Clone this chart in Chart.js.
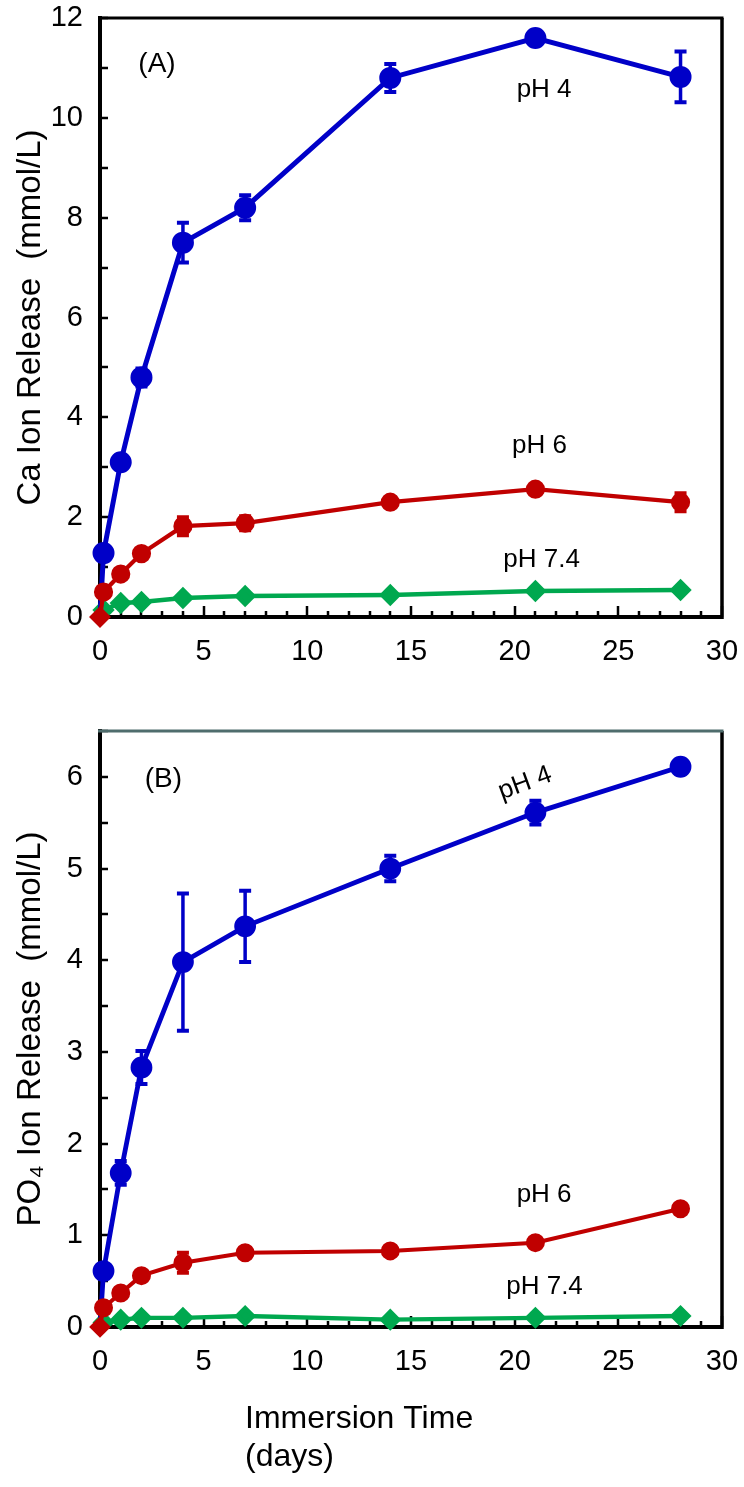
<!DOCTYPE html>
<html><head><meta charset="utf-8">
<script src="https://cdn.jsdelivr.net/npm/chart.js@4.4.1/dist/chart.umd.min.js"></script>
<style>
html,body{margin:0;padding:0;background:#fff;width:744px;height:1487px;overflow:hidden;}
#wrapA{position:absolute;left:0;top:0;width:744px;height:690px;}
#wrapB{position:absolute;left:0;top:690px;width:744px;height:797px;}
</style></head><body>
<div id="wrapA"><canvas id="chartA"></canvas></div>
<div id="wrapB"><canvas id="chartB"></canvas></div>
<script>
// ---- data ----
const days = [0, 0.17, 1, 2, 4, 7, 14, 21, 28];

const caPH4     = [0, 1.28, 3.1, 4.8, 7.5, 8.2, 10.8, 11.6, 10.82];
const caPH4Err  = [0, 0.05, 0.15, 0.2, 0.42, 0.27, 0.3, 0.08, 0.53];
const caPH6     = [0, 0.5, 0.86, 1.27, 1.82, 1.88, 2.3, 2.56, 2.3];
const caPH6Err  = [0, 0.05, 0.05, 0.1, 0.2, 0.16, 0.06, 0.06, 0.2];
const caPH74    = [0, 0.14, 0.28, 0.3, 0.38, 0.42, 0.44, 0.52, 0.54];
const caPH74Err = [0, 0, 0, 0, 0, 0, 0, 0, 0];

const po4PH4     = [0, 0.61, 1.68, 2.83, 3.98, 4.37, 5.0, 5.61, 6.11];
const po4PH4Err  = [0, 0.05, 0.14, 0.19, 0.76, 0.4, 0.15, 0.14, 0.05];
const po4PH6     = [0, 0.21, 0.37, 0.56, 0.7, 0.81, 0.83, 0.92, 1.29];
const po4PH6Err  = [0, 0.03, 0.03, 0.04, 0.12, 0.04, 0.03, 0.03, 0.06];
const po4PH74    = [0, 0.05, 0.08, 0.1, 0.1, 0.12, 0.08, 0.1, 0.12];
const po4PH74Err = [0, 0, 0, 0, 0, 0, 0, 0, 0];

const seriesNames = ['pH 4', 'pH 6', 'pH 7.4'];
const xMajorTicks = [0, 5, 10, 15, 20, 25, 30];
const caMajorTicks = [0, 2, 4, 6, 8, 10, 12];
const po4MajorTicks = [0, 1, 2, 3, 4, 5, 6];

const caTitle = 'Ca Ion Release  (mmol/L)';
const po4Title = 'PO\u2084 Ion Release  (mmol/L)';
const xTitleLines = ['Immersion Time', '(days)'];
const panelA = '(A)';
const panelB = '(B)';

// ---- styles ----
const FONT = '"Liberation Sans", Arial, Helvetica, sans-serif';
const BLUE = '#0000c8', RED = '#c00000', GREEN = '#00a84f';
Chart.defaults.font.family = FONT;
Chart.defaults.color = '#000';

function pts(y) { return days.map((d, i) => ({ x: d, y: y[i] })); }

function makeDatasets(p4, p4e, p6, p6e, p74, p74e, lw) {
  return [
    { label: seriesNames[1], data: pts(p6), errors: p6e, borderColor: RED, backgroundColor: RED,
      pointBorderColor: RED, borderWidth: lw.red, errWidth: 3,
      pointStyle: c => c.dataIndex === 0 ? 'rectRot' : 'circle',
      pointRadius: c => c.dataIndex === 0 ? 8 : 7.5, clip: false },
    { label: seriesNames[0], data: pts(p4), errors: p4e, borderColor: BLUE, backgroundColor: BLUE,
      pointBorderColor: BLUE, borderWidth: lw.blue, errWidth: 3.5,
      pointStyle: 'circle',
      pointRadius: c => c.dataIndex === 0 ? 0 : 8.5, clip: false },
    { label: seriesNames[2], data: pts(p74), errors: p74e, borderColor: GREEN, backgroundColor: GREEN,
      pointBorderColor: GREEN, borderWidth: lw.green, errWidth: 3,
      pointStyle: 'rectRot',
      pointRadius: c => c.dataIndex === 0 ? 0 : 8, clip: false }
  ];
}

const errorBars = {
  id: 'errorBars',
  afterDatasetDraw(chart, args) {
    const ds = chart.data.datasets[args.index];
    if (!ds.errors) return;
    const { ctx } = chart, xs = chart.scales.x, ys = chart.scales.y;
    ctx.save();
    ctx.strokeStyle = ds.borderColor;
    ds.data.forEach((p, i) => {
      const e = ds.errors[i];
      if (!e) return;
      const px = xs.getPixelForValue(p.x);
      const t = ys.getPixelForValue(p.y + e), b = ys.getPixelForValue(p.y - e);
      ctx.lineWidth = ds.errWidth;
      ctx.beginPath(); ctx.moveTo(px, t); ctx.lineTo(px, b); ctx.stroke();
      ctx.lineWidth = 4;
      ctx.beginPath();
      ctx.moveTo(px - 6, t + 1); ctx.lineTo(px + 6, t + 1);
      ctx.moveTo(px - 6, b - 1); ctx.lineTo(px + 6, b - 1);
      ctx.stroke();
    });
    ctx.restore();
  }
};

function framePlugin(topColor) {
  return {
    id: 'frameTicks',
    beforeDatasetsDraw(chart) {
      const { ctx, chartArea: a } = chart, xs = chart.scales.x, ys = chart.scales.y;
      ctx.save();
      ctx.strokeStyle = '#000';
      ctx.lineWidth = 2.5;
      ctx.beginPath();
      xs.ticks.forEach(t => {
        const p = Math.round(xs.getPixelForValue(t.value));
        const len = t.label !== '' ? 11 : 6;
        ctx.moveTo(p, a.bottom); ctx.lineTo(p, a.bottom - len);
      });
      ys.ticks.forEach(t => {
        const p = Math.round(ys.getPixelForValue(t.value));
        ctx.moveTo(a.left, p); ctx.lineTo(a.left + 8, p);
      });
      ctx.stroke();
      ctx.lineWidth = 3.5;
      ctx.beginPath(); ctx.moveTo(a.right, a.top); ctx.lineTo(a.right, a.bottom + 2); ctx.stroke();
      ctx.lineWidth = 3;
      ctx.strokeStyle = topColor;
      ctx.beginPath(); ctx.moveTo(a.left - 2, a.top); ctx.lineTo(a.right + 1.5, a.top); ctx.stroke();
      ctx.restore();
    }
  };
}

function textPlugin(items, xTitle) {
  return {
    id: 'textLabels',
    afterDraw(chart) {
      const { ctx, chartArea: a } = chart, xs = chart.scales.x, ys = chart.scales.y;
      items.forEach(it => {
        ctx.save();
        ctx.font = it.size + 'px ' + FONT;
        ctx.fillStyle = '#000';
        ctx.textAlign = 'center';
        ctx.textBaseline = 'middle';
        ctx.translate(xs.getPixelForValue(it.x), ys.getPixelForValue(it.y));
        if (it.rot) ctx.rotate(it.rot * Math.PI / 180);
        ctx.fillText(it.text, 0, 0);
        ctx.restore();
      });
      if (xTitle) {
        ctx.save();
        ctx.font = '32px ' + FONT;
        ctx.fillStyle = '#000';
        ctx.textAlign = 'left';
        ctx.textBaseline = 'alphabetic';
        xTitle.forEach((line, i) => ctx.fillText(line, a.left + 145, a.bottom + 101 + i * 38));
        ctx.restore();
      }
    }
  };
}

function makeOptions(yMax, yStep, yMajors, yTitle, padTop, xHeight) {
  return {
    responsive: true, maintainAspectRatio: false, animation: false,
    layout: { autoPadding: false, padding: { top: padTop, right: 22, left: 0, bottom: 0 } },
    plugins: { legend: { display: false }, tooltip: { enabled: false } },
    elements: { line: { tension: 0 }, point: { borderWidth: 1 } },
    scales: {
      x: {
        type: 'linear', min: 0, max: 30,
        afterFit: s => { s.height = xHeight; s.paddingLeft = 0; s.paddingRight = 0; },
        grid: { drawOnChartArea: false, drawTicks: false },
        border: { display: true, color: '#000', width: 4 },
        ticks: { stepSize: 1, autoSkip: false, maxRotation: 0, padding: 18,
          font: { size: 29 }, color: '#000',
          callback: v => xMajorTicks.includes(v) ? String(v) : '' }
      },
      y: {
        type: 'linear', min: 0, max: yMax,
        afterFit: s => { s.width = 100; s.paddingTop = 0; s.paddingBottom = 0; },
        grid: { drawOnChartArea: false, drawTicks: false },
        border: { display: true, color: '#000', width: 4 },
        ticks: { stepSize: yStep, autoSkip: false, padding: 17,
          font: { size: 29 }, color: '#000',
          callback: v => yMajors.includes(v) ? String(v) : '' },
        title: { display: true, text: yTitle, color: '#000',
          font: { size: 33 }, padding: { top: 11, bottom: 0 } }
      }
    }
  };
}

new Chart(document.getElementById('chartA'), {
  type: 'line',
  data: { datasets: makeDatasets(caPH4, caPH4Err, caPH6, caPH6Err, caPH74, caPH74Err,
    { blue: 5, red: 4.2, green: 4.5 }) },
  options: makeOptions(12, 1, caMajorTicks, caTitle, 18, 73),
  plugins: [framePlugin('#000'), errorBars, textPlugin([
    { text: panelA, x: 2.75, y: 11.08, size: 28 },
    { text: seriesNames[0], x: 21.42, y: 10.57, size: 26 },
    { text: seriesNames[1], x: 21.2, y: 3.43, size: 26 },
    { text: seriesNames[2], x: 21.3, y: 1.14, size: 26 }
  ], null)]
});

new Chart(document.getElementById('chartB'), {
  type: 'line',
  data: { datasets: makeDatasets(po4PH4, po4PH4Err, po4PH6, po4PH6Err, po4PH74, po4PH74Err,
    { blue: 4.8, red: 4, green: 4.3 }) },
  options: makeOptions(6.5, 0.5, po4MajorTicks, po4Title, 41, 160),
  plugins: [framePlugin('#4f6d6d'), errorBars, textPlugin([
    { text: panelB, x: 3.06, y: 5.97, size: 28 },
    { text: seriesNames[0], x: 20.5, y: 5.93, size: 26, rot: -20 },
    { text: seriesNames[1], x: 21.42, y: 1.44, size: 26 },
    { text: seriesNames[2], x: 21.44, y: 0.436, size: 26 }
  ], xTitleLines)]
});
</script>
</body></html>
